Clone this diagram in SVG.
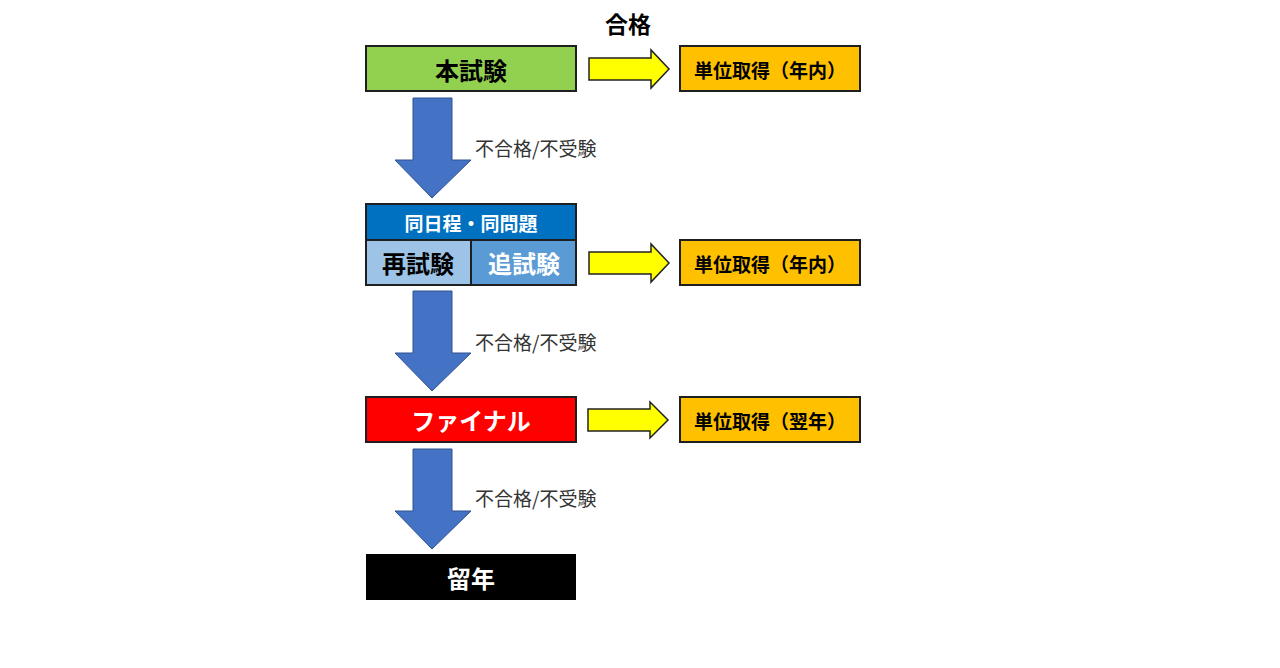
<svg xmlns="http://www.w3.org/2000/svg" width="1280" height="668" viewBox="0 0 1280 668">
<style>
text{font-family:"Noto Sans CJK JP","Noto Sans",sans-serif;font-weight:bold;text-anchor:middle;dominant-baseline:central}
.box{stroke:#1f1f1f;stroke-width:2}
.ya{fill:#FFFF00;stroke:#222;stroke-width:1.5}
.ba{fill:#4472C4;stroke:#2F528F;stroke-width:1}
.lbl{font-weight:normal;font-size:19px;fill:#333;text-anchor:start}
.res{font-size:19px}
</style>
<rect width="1280" height="668" fill="#fff"/>
<text x="628" y="23" font-size="23">合格</text>
<g id="n1"><rect class="box" x="366" y="46" width="210" height="45" fill="#92D050"/><text x="471" y="69" font-size="24">本試験</text></g>
<g id="r1"><rect class="box" x="680" y="46" width="180" height="45" fill="#FFC000"/><text class="res" x="770" y="69">単位取得（年内）</text></g>
<g id="n2">
<rect class="box" x="366" y="204" width="210" height="36" fill="#0070C0"/><text x="471" y="222" font-size="19" fill="#fff">同日程・同問題</text>
<rect class="box" x="366" y="240" width="105" height="45" fill="#9DC3E6"/><text x="418" y="262" font-size="24">再試験</text>
<rect class="box" x="471" y="240" width="105" height="45" fill="#5B9BD5"/><text x="524" y="262" font-size="24" fill="#fff">追試験</text>
</g>
<g id="r2"><rect class="box" x="680" y="240" width="180" height="45" fill="#FFC000"/><text class="res" x="770" y="263">単位取得（年内）</text></g>
<g id="n3"><rect class="box" x="366" y="397" width="210" height="45" fill="#FF0000"/><text x="471" y="419" font-size="24" fill="#fff">ファイナル</text></g>
<g id="r3"><rect class="box" x="680" y="397" width="180" height="45" fill="#FFC000"/><text class="res" x="770" y="420">単位取得（翌年）</text></g>
<g id="n4"><rect x="366" y="554" width="210" height="46" fill="#000"/><text x="471" y="577" font-size="24" fill="#fff">留年</text></g>
<g id="connectors">
<path class="ya" d="M589,58 H651 V50 L669,69 L651,88 V80 H589 Z"/>
<path class="ya" d="M589,252 H651 V244 L669,263 L651,282 V274 H589 Z"/>
<path class="ya" d="M588,409 H650 V402 L668,420 L650,438 V431 H588 Z"/>
<path class="ba" d="M413,98 H452 V160 H471 L432,198 L395,160 H413 Z"/>
<path class="ba" d="M413,291 H452 V353 H471 L432,391 L395,353 H413 Z"/>
<path class="ba" d="M413,449 H452 V511 H471 L432,549 L395,511 H413 Z"/>
<text class="lbl" x="475" y="147">不合格/不受験</text>
<text class="lbl" x="475" y="341">不合格/不受験</text>
<text class="lbl" x="475" y="497">不合格/不受験</text>
</g>
</svg>
